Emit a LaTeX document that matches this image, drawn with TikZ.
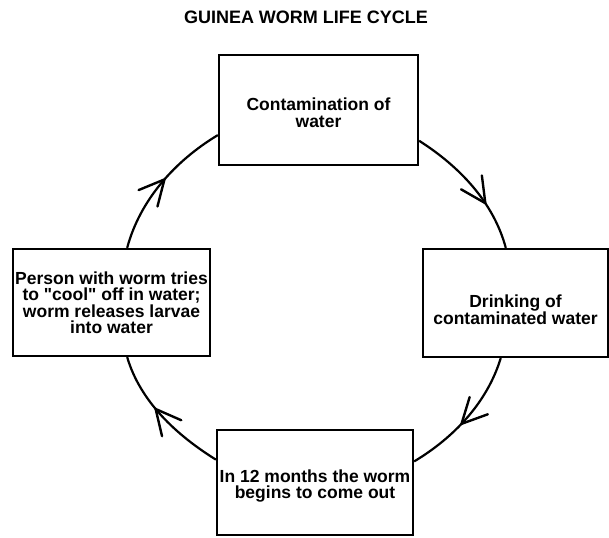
\documentclass[tikz,border=0pt]{standalone}
\usepackage{fontspec}
\setmainfont{Liberation Sans}
\usetikzlibrary{decorations.markings}
\begin{document}
\begin{tikzpicture}[x=1pt,y=1pt,
  box/.style={draw, line width=2.3pt, rectangle, align=center, inner sep=1pt, font={\bfseries\fontsize{17.5}{16.5}\selectfont}},
  cyc/.style={line width=2.2pt, looseness=0.88, postaction={decorate},
    decoration={markings, mark=at position #1 with {\draw[line width=2.4pt, line cap=round, line join=miter] (-25pt,12.5pt) -- (0pt,0pt) -- (-25pt,-12.5pt);}}},
]
\useasboundingbox (0,0) rectangle (609,-537);
\node[font={\bfseries\fontsize{18}{20}\selectfont}] (title) at (306,-17) {GUINEA WORM LIFE CYCLE};
\node[box, minimum width=199pt, minimum height=110pt] (top) at (318.5,-110) {\rule{0pt}{18pt}Contamination of\\water};
\node[box, minimum width=185pt, minimum height=108pt] (right) at (515.5,-303) {\rule{0pt}{26pt}Drinking of\\contaminated water};
\node[box, minimum width=196pt, minimum height=105pt] (bottom) at (315,-482.5) {\rule{0pt}{20pt}In 12 months the worm\\begins to come out};
\node[box, minimum width=197pt, minimum height=107pt] (left) at (111.5,-302.5) {Person with worm tries\\to \textquotedbl cool\textquotedbl{} off in water;\\worm releases larvae\\into water};
\draw[cyc=0.65] (top.-17) to[out=-32.5,in=105] (right.100);
\draw[cyc=0.56] (right.-105) to[out=-107,in=31] (bottom.12);
\draw[cyc=0.57] (bottom.167) to[out=148,in=-73.5] (left.-74);
\draw[cyc=0.53] (left.74) to[out=75,in=211] (top.-166);
\end{tikzpicture}
\end{document}
